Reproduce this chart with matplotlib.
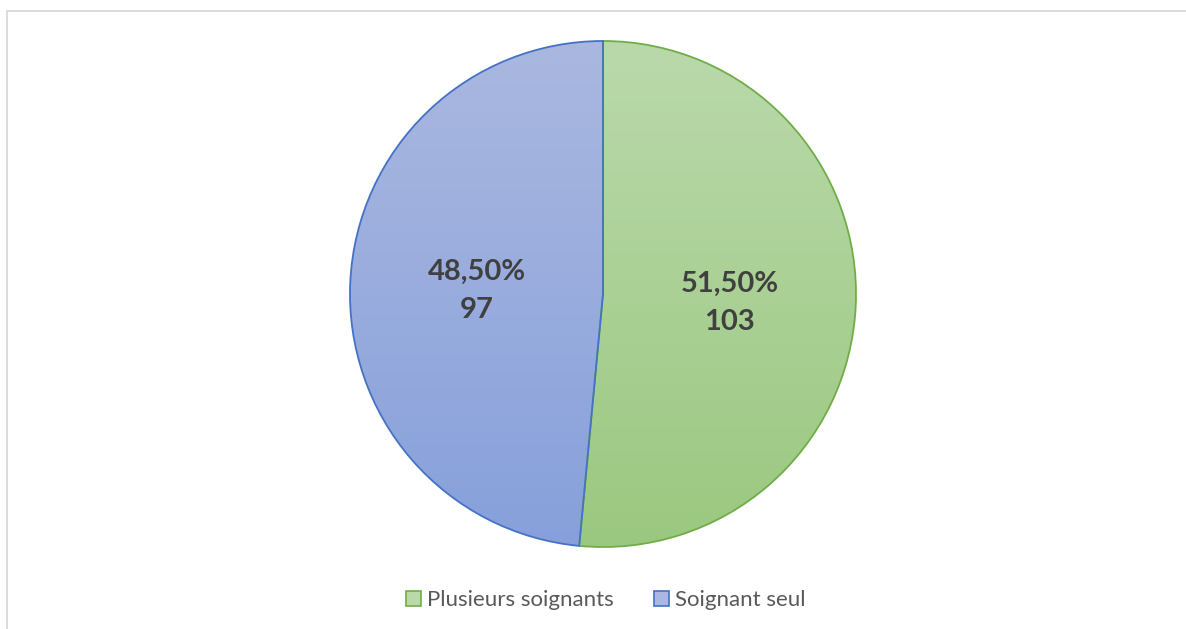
import numpy as np
import matplotlib
matplotlib.use("Agg")
import matplotlib.pyplot as plt
from matplotlib.colors import LinearSegmentedColormap
from matplotlib.patches import Rectangle

labels = ["Plusieurs soignants", "Soignant seul"]
counts = [103, 97]
percents = [51.50, 48.50]
face_top = ["#bad9ab", "#aab8e0"]
face_bot = ["#9bc880", "#87a0db"]
edges = ["#70ad47", "#4472c4"]

W, H = 1186, 629
fig = plt.figure(figsize=(W / 100, H / 100), dpi=100)
ax = fig.add_axes([0, 0, 1, 1])
ax.set_xlim(0, W)
ax.set_ylim(0, H)
ax.set_aspect("equal")
ax.axis("off")

# chart frame, cut off on the right and bottom
fig.patches.append(Rectangle((7 / W, -0.1), 1.2, (H - 11) / H + 0.1,
                             transform=fig.transFigure, fill=False,
                             ec="#d9d9d9", lw=1.3))

cx, cy, r = 603, H - 294, 253

def fmt(i):
    return f"{percents[i]:.2f}%".replace(".", ",") + f"\n{counts[i]}"

wedges, _ = ax.pie(counts, startangle=90, counterclock=False,
                   center=(cx, cy), radius=r, frame=True,
                   wedgeprops=dict(fc="none", lw=1.3))
for i, w in enumerate(wedges):
    w.set_edgecolor(edges[i])
    w.set_zorder(3)
    cmap = LinearSegmentedColormap.from_list(f"g{i}", [face_bot[i], face_top[i]])
    grad = np.linspace(0, 1, 256).reshape(-1, 1)
    im = ax.imshow(grad, cmap=cmap, origin="lower", aspect="auto",
                   extent=(cx - r, cx + r, cy - r, cy + r), zorder=2)
    im.set_clip_path(w)
    # label at the wedge mid-angle
    th = np.deg2rad((w.theta1 + w.theta2) / 2)
    d = 0.5 * r
    ax.text(cx + d * np.cos(th), cy + d * np.sin(th) - 3, fmt(i),
            ha="center", va="center", fontsize=21, fontweight="bold",
            color="#404040", family="Lato", linespacing=1.55, zorder=4)

ax.set_xlim(0, W)
ax.set_ylim(0, H)
ax.axis("off")

handles = [Rectangle((0, 0), 1, 1, fc=face_top[i], ec=edges[i], lw=1.2)
           for i in range(2)]
ax.legend(handles, labels, loc="center", bbox_to_anchor=(606 / W, 1 - 600 / H),
          bbox_transform=fig.transFigure, ncol=2, frameon=False,
          prop=dict(family="Lato", size=16), labelcolor="#595959",
          handlelength=0.65, handleheight=0.65, handletextpad=0.3,
          columnspacing=1.8)

fig.savefig("out.png", dpi=100)
